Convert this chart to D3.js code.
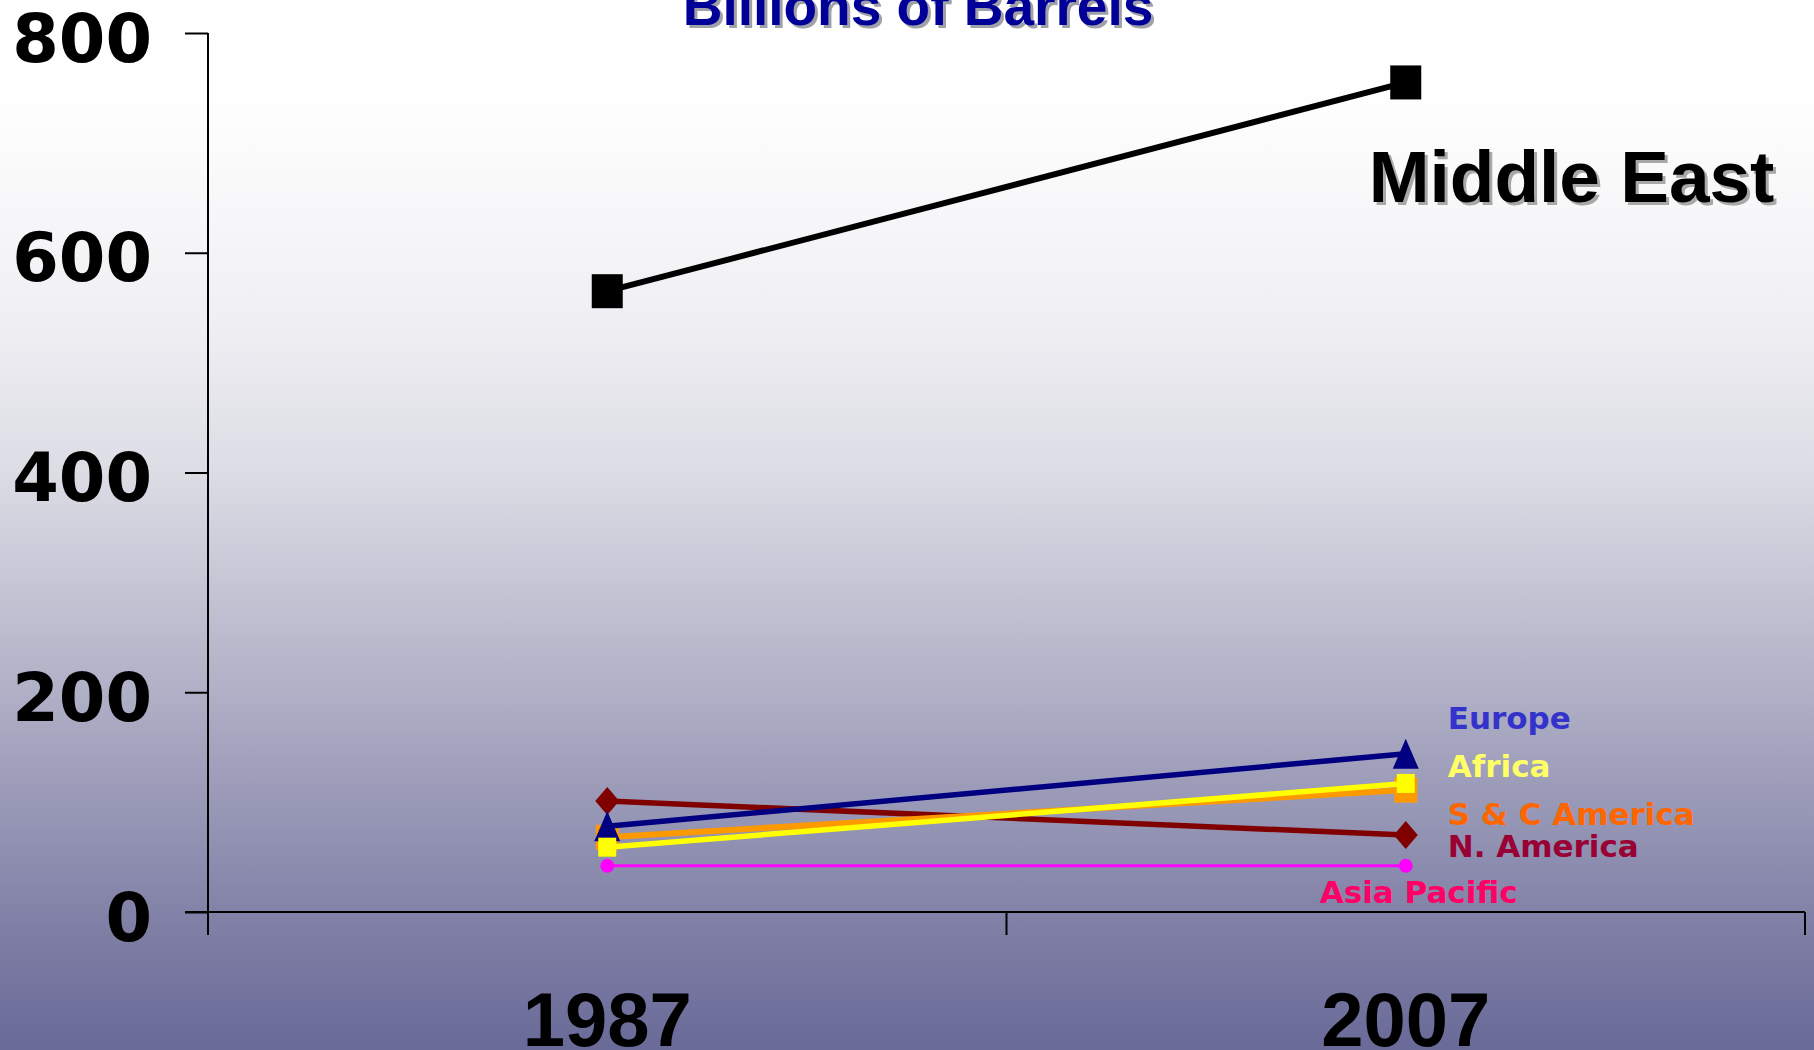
<!DOCTYPE html>
<html>
<head>
<meta charset="utf-8">
<script src="https://cdn.jsdelivr.net/npm/d3@7"></script>
<style>
  html, body { margin: 0; padding: 0; overflow: hidden; }
  svg { display: block; }
</style>
</head>
<body>
<svg id="chart" width="1814" height="1050"></svg>
<script>
// ---------- data ----------
const years = ["1987", "2007"];
const yTicks = [0, 200, 400, 600, 800];
const titleText = "Billions of Barrels";
const seriesNames = ["Asia Pacific", "N. America", "S & C America", "Europe", "Africa", "Middle East"];
const asiaPacific = [42, 42];
const nAmerica = [101, 70];
const scAmerica = [68, 111];
const europe = [78, 144];
const africa = [59, 117];
const middleEast = [565, 755];

// ---------- styles ----------
const seriesValues = {
  "Asia Pacific": asiaPacific, "N. America": nAmerica, "S & C America": scAmerica,
  "Europe": europe, "Africa": africa, "Middle East": middleEast
};
const style = {
  "Asia Pacific":  { line: "#FF00FF", width: 3, marker: "circle",   mw: 14, mh: 14, label: "#FF0066", lx: -86, ly: 903, fs: 31, font: "DejaVu Sans" },
  "N. America":    { line: "#800000", width: 5.5, marker: "diamond",  mw: 24, mh: 28, label: "#990033", lx: 42, ly: 857, fs: 31, font: "DejaVu Sans" },
  "S & C America": { line: "#FF9900", width: 6, marker: "square",   mw: 23, mh: 25, label: "#FF6600", lx: 42, ly: 825, fs: 31, font: "DejaVu Sans" },
  "Europe":        { line: "#000080", width: 5.5, marker: "triangle", mw: 26, mh: 30, label: "#3333CC", lx: 42, ly: 729, fs: 31, font: "DejaVu Sans" },
  "Africa":        { line: "#FFFF00", width: 5.5, marker: "square",   mw: 18, mh: 19, label: "#FFFF66", lx: 42, ly: 777, fs: 31, font: "DejaVu Sans" },
  "Middle East":   { line: "#000000", width: 6, marker: "square",   mw: 31, mh: 34, label: "#000000", lx: -37, ly: 202, fs: 73, font: "Liberation Sans", shadow: true }
};

const svg = d3.select("#chart");
const W = 1814, H = 1050;

// background gradient
const defs = svg.append("defs");
const grad = defs.append("linearGradient").attr("id", "bg").attr("x1", 0).attr("y1", 0).attr("x2", 0).attr("y2", 1);
[[0, "#ffffff"], [0.1, "#fefefe"], [0.3, "#f0f0f4"], [0.45, "#dcdce5"], [0.62, "#b8b8cc"], [0.8, "#9191b2"], [0.9, "#7c7ca4"], [1, "#6a6a99"]]
  .forEach(([o, c]) => grad.append("stop").attr("offset", o).attr("stop-color", c));
svg.append("rect").attr("width", W).attr("height", H).attr("fill", "url(#bg)");

// scales
const x = d3.scaleBand().domain(years).range([208, 1805]).padding(0);
const y = d3.scaleLinear().domain([0, 800]).range([912, 33]);
const cx = d => x(d) + x.bandwidth() / 2;

// y axis
const yAxis = d3.axisLeft(y).tickValues(yTicks).tickSize(23).tickSizeOuter(0);
const gy = svg.append("g").attr("transform", "translate(208,0)").call(yAxis);
gy.select(".domain").remove();
gy.selectAll(".tick line").attr("stroke", "#000").attr("stroke-width", 2);
gy.selectAll(".tick text")
  .attr("x", -56).attr("dy", "0.42em")
  .attr("font-family", "DejaVu Sans").attr("font-weight", "bold").attr("font-size", 67)
  .attr("fill", "#000");
svg.append("line").attr("x1", 208).attr("x2", 208).attr("y1", y(800)).attr("y2", 935)
  .attr("stroke", "#000").attr("stroke-width", 2);

// x axis
svg.append("line").attr("x1", 185).attr("x2", x.range()[1]).attr("y1", y(0)).attr("y2", y(0))
  .attr("stroke", "#000").attr("stroke-width", 2);
const bounds = years.map(d => x(d)).concat([x.range()[1]]).slice(1);
svg.selectAll(".xtick").data(bounds).enter().append("line")
  .attr("x1", d => d).attr("x2", d => d).attr("y1", y(0)).attr("y2", 935)
  .attr("stroke", "#000").attr("stroke-width", 2);
svg.selectAll(".xlabel").data(years).enter().append("text")
  .attr("x", d => cx(d)).attr("y", 1046).attr("text-anchor", "middle")
  .attr("font-family", "Liberation Sans").attr("font-weight", "bold").attr("font-size", 76)
  .attr("fill", "#000").text(d => d);

// title (with shadow)
[["#a0a0a8", 3], ["#000099", 0]].forEach(([c, o]) => {
  svg.append("text").attr("x", 918 + o).attr("y", 25 + o).attr("text-anchor", "middle")
    .attr("font-family", "Liberation Sans").attr("font-weight", "bold").attr("font-size", 55)
    .attr("fill", c).text(titleText);
});

// series
const line = d3.line().x((v, i) => cx(years[i])).y(v => y(v));
seriesNames.forEach(name => {
  const s = style[name], vals = seriesValues[name];
  const g = svg.append("g");
  g.append("path").attr("d", line(vals)).attr("fill", "none")
    .attr("stroke", s.line).attr("stroke-width", s.width);
  vals.forEach((v, i) => {
    const px = cx(years[i]), py = y(v);
    let m;
    if (s.marker === "circle") {
      m = g.append("ellipse").attr("cx", px).attr("cy", py).attr("rx", s.mw / 2).attr("ry", s.mh / 2);
    } else if (s.marker === "square") {
      m = g.append("rect").attr("x", px - s.mw / 2).attr("y", py - s.mh / 2).attr("width", s.mw).attr("height", s.mh);
    } else if (s.marker === "diamond") {
      m = g.append("path").attr("d", `M${px},${py - s.mh / 2}L${px + s.mw / 2},${py}L${px},${py + s.mh / 2}L${px - s.mw / 2},${py}Z`);
    } else {
      m = g.append("path").attr("d", `M${px},${py - s.mh / 2}L${px + s.mw / 2},${py + s.mh / 2}L${px - s.mw / 2},${py + s.mh / 2}Z`);
    }
    m.attr("fill", s.line);
  });
});

// series labels
seriesNames.forEach(name => {
  const s = style[name];
  const lx = cx(years[1]) + s.lx;
  if (s.shadow) {
    svg.append("text").attr("x", lx + 3).attr("y", s.ly + 3)
      .attr("font-family", s.font).attr("font-weight", "bold").attr("font-size", s.fs)
      .attr("fill", "#a8a8a8").text(name);
  }
  svg.append("text").attr("x", lx).attr("y", s.ly)
    .attr("font-family", s.font).attr("font-weight", "bold").attr("font-size", s.fs)
    .attr("fill", s.label).text(name);
});
</script>
</body>
</html>
